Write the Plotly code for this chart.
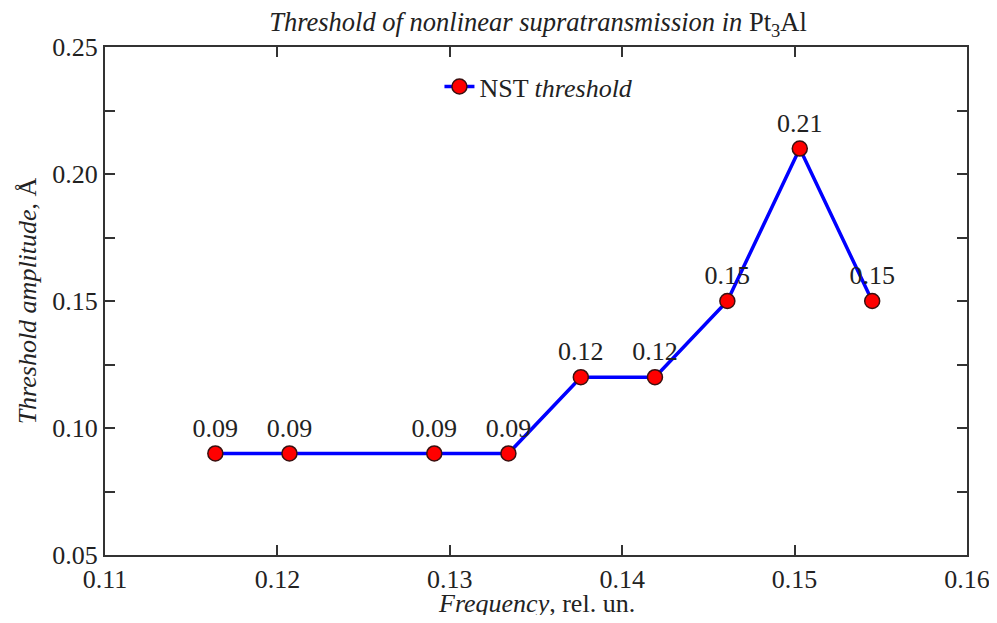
import plotly.graph_objects as go

frequency = [0.1164, 0.1207, 0.1291, 0.1334, 0.1376, 0.1419, 0.1461, 0.1503, 0.1545]
threshold = [0.09, 0.09, 0.09, 0.09, 0.12, 0.12, 0.15, 0.21, 0.15]
labels = ["0.09", "0.09", "0.09", "0.09", "0.12", "0.12", "0.15", "0.21", "0.15"]
x_ticks = [0.11, 0.12, 0.13, 0.14, 0.15, 0.16]
x_tick_text = ["0.11", "0.12", "0.13", "0.14", "0.15", "0.16"]
y_ticks = [0.05, 0.10, 0.15, 0.20, 0.25]
y_tick_text = ["0.05", "0.10", "0.15", "0.20", "0.25"]

FONT = "Liberation Serif"
TXT = "#222222"
AX = "#333333"

fig = go.Figure()
fig.add_trace(go.Scatter(
    x=frequency, y=threshold, mode="lines+markers+text",
    text=labels, textposition="top center",
    textfont=dict(family=FONT, size=26, color=TXT),
    line=dict(color="#0000ff", width=3.5),
    marker=dict(color="#ff0000", size=15, line=dict(color="#3a1010", width=1.5)),
    name="NST <i>threshold</i>",
    cliponaxis=False,
))

axis_common = dict(
    showgrid=False, zeroline=False, showline=True, linecolor=AX, linewidth=2,
    mirror="ticks", ticks="inside", ticklen=10, tickwidth=1.5, tickcolor=AX,
    tickfont=dict(family=FONT, size=26, color=TXT), automargin=False,
    ticklabeloverflow="allow",
)

# page body has an 8px margin: figure kept inside the window (no scrollbars)
W, H = 981, 607
fig.update_layout(
    width=W, height=H,
    margin=dict(l=97, r=22, t=39, b=60, autoexpand=False),
    paper_bgcolor="white", plot_bgcolor="white",
    title=dict(
        text="<i>Threshold of nonlinear supratransmission in</i> Pt<sub>3</sub>Al",
        x=(538 - 8) / W, xref="container", xanchor="center",
        y=1 - 14 / H, yref="container", yanchor="middle",
        font=dict(family=FONT, size=26.5, color=TXT),
    ),
    xaxis=dict(
        range=[0.11, 0.16], tickvals=x_ticks, ticktext=x_tick_text,
        **axis_common,
    ),
    yaxis=dict(
        range=[0.05, 0.25], tickvals=y_ticks, ticktext=y_tick_text,
        minor=dict(ticks="inside", ticklen=10, tickwidth=1.5, tickcolor=AX, dtick=0.025, tick0=0.05),
        title=dict(text="<i>Threshold amplitude</i>, Å", font=dict(family=FONT, size=26, color=TXT), standoff=8),
        **axis_common,
    ),
    annotations=[dict(
        text="<i>Frequency</i>, rel. un.", xref="paper", yref="paper",
        x=0.5, y=-0.0945, xanchor="center", yanchor="middle", showarrow=False,
        font=dict(family=FONT, size=26, color=TXT),
    )],
    showlegend=True,
    legend=dict(
        x=0.388, y=0.922, xanchor="left", yanchor="middle",
        bgcolor="rgba(0,0,0,0)", font=dict(family=FONT, size=26, color=TXT),
        itemwidth=30,
    ),
)

fig.write_html("out.html")
